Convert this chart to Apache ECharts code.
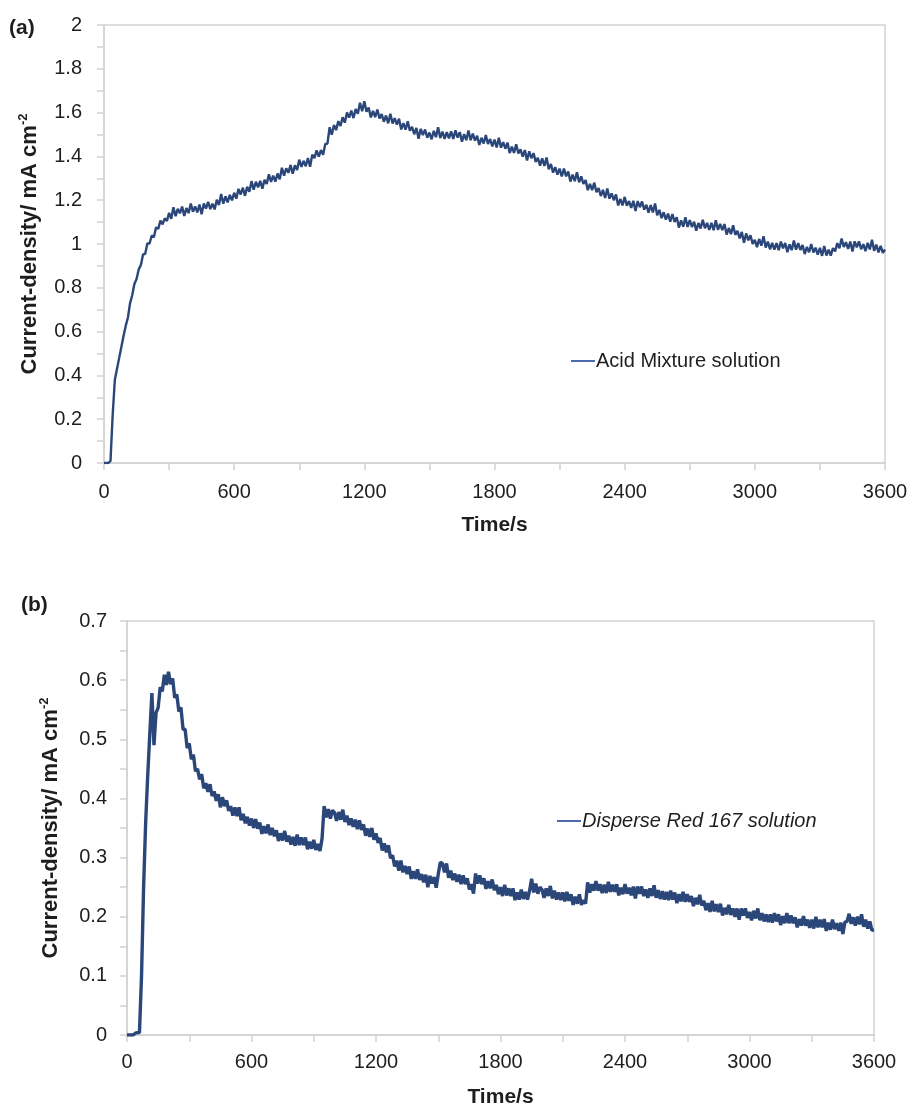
<!DOCTYPE html>
<html>
<head>
<meta charset="utf-8">
<script src="https://cdn.jsdelivr.net/npm/echarts@6/dist/echarts.min.js"></script>
<style>
  html, body { margin: 0; padding: 0; background: #fff; }
  #chart { width: 912px; height: 1109px; }
</style>
</head>
<body>
<div id="chart"></div>
<script>
// Chronoamperometry records, one reading every 10 s from 0 to 3600 s.
const sampleStep = 10;

const seriesNameA = 'Acid Mixture solution';
const seriesNameB = 'Disperse Red 167 solution';

const xTicks = [0, 600, 1200, 1800, 2400, 3000, 3600];
const yTicksA = [0, 0.2, 0.4, 0.6, 0.8, 1, 1.2, 1.4, 1.6, 1.8, 2];
const yTicksB = [0, 0.1, 0.2, 0.3, 0.4, 0.5, 0.6, 0.7];

// (a) current density, mA cm-2 (10 readings per row = 100 s)
const currentA = [
  0, 0, 0, 0.01, 0.22, 0.38, 0.43, 0.48, 0.53, 0.58,
  0.626, 0.663, 0.729, 0.766, 0.817, 0.840, 0.884, 0.904, 0.952, 0.955,
  1.003, 1.002, 1.039, 1.031, 1.076, 1.069, 1.107, 1.090, 1.117, 1.105,
  1.142, 1.115, 1.168, 1.127, 1.161, 1.140, 1.171, 1.128, 1.164, 1.141,
  1.185, 1.147, 1.172, 1.144, 1.180, 1.136, 1.185, 1.162, 1.192, 1.159,
  1.184, 1.158, 1.202, 1.178, 1.228, 1.184, 1.218, 1.190, 1.224, 1.199,
  1.234, 1.207, 1.252, 1.226, 1.257, 1.220, 1.261, 1.238, 1.287, 1.248,
  1.284, 1.259, 1.288, 1.253, 1.293, 1.274, 1.318, 1.284, 1.312, 1.285,
  1.322, 1.295, 1.348, 1.312, 1.346, 1.325, 1.361, 1.321, 1.359, 1.338,
  1.385, 1.352, 1.380, 1.355, 1.393, 1.353, 1.408, 1.392, 1.428, 1.399,
  1.429, 1.408, 1.457, 1.458, 1.533, 1.499, 1.543, 1.520, 1.561, 1.539,
  1.579, 1.554, 1.601, 1.577, 1.609, 1.575, 1.616, 1.595, 1.645, 1.606,
  1.652, 1.604, 1.623, 1.578, 1.608, 1.579, 1.614, 1.573, 1.593, 1.558,
  1.587, 1.551, 1.595, 1.550, 1.575, 1.545, 1.572, 1.523, 1.552, 1.522,
  1.560, 1.517, 1.535, 1.501, 1.530, 1.481, 1.526, 1.497, 1.523, 1.485,
  1.509, 1.478, 1.517, 1.488, 1.533, 1.484, 1.513, 1.480, 1.511, 1.482,
  1.514, 1.480, 1.519, 1.486, 1.511, 1.467, 1.502, 1.474, 1.518, 1.474,
  1.504, 1.472, 1.494, 1.452, 1.485, 1.459, 1.497, 1.457, 1.479, 1.446,
  1.477, 1.441, 1.485, 1.440, 1.465, 1.435, 1.463, 1.415, 1.445, 1.416,
  1.455, 1.413, 1.432, 1.399, 1.429, 1.381, 1.423, 1.392, 1.415, 1.375,
  1.394, 1.358, 1.391, 1.356, 1.395, 1.341, 1.365, 1.326, 1.351, 1.317,
  1.344, 1.308, 1.344, 1.309, 1.331, 1.285, 1.317, 1.287, 1.328, 1.282,
  1.309, 1.274, 1.292, 1.246, 1.275, 1.246, 1.280, 1.236, 1.255, 1.219,
  1.247, 1.210, 1.253, 1.207, 1.231, 1.200, 1.226, 1.176, 1.206, 1.176,
  1.215, 1.175, 1.196, 1.165, 1.197, 1.151, 1.196, 1.168, 1.194, 1.157,
  1.179, 1.143, 1.178, 1.144, 1.185, 1.131, 1.156, 1.118, 1.145, 1.111,
  1.139, 1.102, 1.137, 1.101, 1.122, 1.075, 1.108, 1.079, 1.122, 1.078,
  1.109, 1.078, 1.102, 1.061, 1.096, 1.071, 1.111, 1.072, 1.096, 1.064,
  1.097, 1.063, 1.108, 1.065, 1.092, 1.063, 1.091, 1.043, 1.073, 1.045,
  1.085, 1.042, 1.060, 1.026, 1.055, 1.006, 1.048, 1.017, 1.040, 1.000,
  1.019, 0.986, 1.023, 0.992, 1.035, 0.984, 1.011, 0.976, 1.005, 0.974,
  1.004, 0.972, 1.011, 0.980, 1.005, 0.963, 0.998, 0.972, 1.016, 0.974,
  1.004, 0.973, 0.995, 0.954, 0.987, 0.962, 1.000, 0.961, 0.983, 0.951,
  0.982, 0.946, 0.991, 0.947, 0.974, 0.947, 0.981, 0.966, 1.004, 0.981,
  1.025, 0.986, 1.008, 0.978, 1.011, 0.966, 1.012, 0.985, 1.012, 0.976,
  0.999, 0.967, 1.005, 0.975, 1.019, 0.969, 0.997, 0.962, 0.991, 0.960,
  0.975
];

// (b) current density, mA cm-2 (10 readings per row = 100 s)
const currentB = [
  0, 0, 0, 0, 0.003, 0.004, 0.004, 0.10, 0.25, 0.36,
  0.44, 0.51, 0.578, 0.49, 0.545, 0.553, 0.588, 0.581, 0.609, 0.592,
  0.614, 0.593, 0.603, 0.570, 0.576, 0.547, 0.554, 0.517, 0.517, 0.485,
  0.493, 0.466, 0.474, 0.446, 0.450, 0.432, 0.441, 0.417, 0.426, 0.411,
  0.424, 0.404, 0.412, 0.396, 0.407, 0.385, 0.402, 0.387, 0.397, 0.379,
  0.387, 0.371, 0.385, 0.370, 0.385, 0.363, 0.374, 0.358, 0.369, 0.354,
  0.366, 0.350, 0.365, 0.349, 0.359, 0.340, 0.353, 0.341, 0.356, 0.338,
  0.350, 0.336, 0.346, 0.328, 0.341, 0.329, 0.345, 0.327, 0.337, 0.322,
  0.335, 0.320, 0.339, 0.321, 0.334, 0.321, 0.334, 0.314, 0.327, 0.315,
  0.330, 0.313, 0.323, 0.311, 0.332, 0.387, 0.368, 0.382, 0.366, 0.380,
  0.376, 0.362, 0.377, 0.364, 0.381, 0.360, 0.371, 0.355, 0.366, 0.352,
  0.364, 0.348, 0.363, 0.347, 0.356, 0.337, 0.349, 0.335, 0.350, 0.330,
  0.341, 0.325, 0.333, 0.312, 0.324, 0.309, 0.321, 0.299, 0.304, 0.285,
  0.295, 0.278, 0.295, 0.275, 0.286, 0.272, 0.285, 0.264, 0.277, 0.264,
  0.280, 0.262, 0.272, 0.258, 0.271, 0.250, 0.269, 0.256, 0.267, 0.249,
  0.272, 0.292, 0.290, 0.275, 0.290, 0.266, 0.278, 0.262, 0.273, 0.259,
  0.271, 0.255, 0.270, 0.255, 0.265, 0.246, 0.255, 0.239, 0.273, 0.256,
  0.270, 0.255, 0.265, 0.247, 0.260, 0.248, 0.263, 0.245, 0.254, 0.238,
  0.250, 0.235, 0.254, 0.236, 0.248, 0.235, 0.248, 0.228, 0.241, 0.229,
  0.246, 0.230, 0.242, 0.229, 0.244, 0.264, 0.241, 0.256, 0.239, 0.250,
  0.246, 0.232, 0.248, 0.235, 0.252, 0.231, 0.244, 0.229, 0.241, 0.228,
  0.241, 0.226, 0.242, 0.227, 0.238, 0.220, 0.234, 0.222, 0.238, 0.220,
  0.228, 0.222, 0.258, 0.241, 0.255, 0.244, 0.260, 0.244, 0.255, 0.240,
  0.254, 0.240, 0.259, 0.242, 0.254, 0.242, 0.255, 0.236, 0.249, 0.238,
  0.255, 0.239, 0.249, 0.236, 0.251, 0.231, 0.251, 0.239, 0.251, 0.235,
  0.246, 0.232, 0.248, 0.235, 0.253, 0.232, 0.245, 0.230, 0.243, 0.229,
  0.242, 0.228, 0.244, 0.229, 0.241, 0.223, 0.238, 0.226, 0.242, 0.225,
  0.238, 0.225, 0.235, 0.218, 0.232, 0.221, 0.237, 0.219, 0.227, 0.211,
  0.223, 0.208, 0.227, 0.209, 0.221, 0.208, 0.222, 0.202, 0.215, 0.204,
  0.220, 0.203, 0.214, 0.200, 0.214, 0.195, 0.214, 0.202, 0.214, 0.198,
  0.208, 0.194, 0.210, 0.197, 0.214, 0.194, 0.206, 0.192, 0.204, 0.191,
  0.204, 0.190, 0.206, 0.192, 0.204, 0.186, 0.201, 0.189, 0.206, 0.189,
  0.202, 0.189, 0.199, 0.182, 0.196, 0.185, 0.201, 0.185, 0.195, 0.181,
  0.195, 0.180, 0.200, 0.182, 0.195, 0.182, 0.196, 0.176, 0.190, 0.178,
  0.195, 0.179, 0.189, 0.176, 0.190, 0.171, 0.191, 0.192, 0.205, 0.188,
  0.199, 0.185, 0.200, 0.187, 0.204, 0.183, 0.195, 0.180, 0.192, 0.177,
  0.178
];

const FONT = '"Liberation Sans", Arial, Helvetica, sans-serif';
const TEXT = '#1e1e1e';
const AXIS = '#d2d2d2';
const LINE = '#2b4679';
const LEGEND_LINE = '#4a6cae';

function toPairs(values) {
  return values.map((v, i) => [i * sampleStep, v]);
}

function tickLabel(list) {
  return function (v) {
    const r = Math.round(v * 1000) / 1000;
    return list.some(t => Math.abs(t - r) < 1e-6) ? String(r) : '';
  };
}

function xAxis(gridIndex, labelMargin, nameGap) {
  return {
    type: 'value', gridIndex: gridIndex,
    min: 0, max: 3600, interval: 300,
    name: 'Time/s', nameLocation: 'middle', nameGap: nameGap,
    nameTextStyle: { fontFamily: FONT, fontSize: 21, fontWeight: 'bold', color: TEXT },
    axisLine: { show: true, lineStyle: { color: AXIS, width: 1.5 } },
    axisTick: { show: true, inside: false, length: 7, lineStyle: { color: AXIS, width: 1.5 } },
    axisLabel: { margin: labelMargin, fontFamily: FONT, fontSize: 20, color: TEXT,
                 formatter: tickLabel(xTicks) },
    splitLine: { show: false }
  };
}

function yAxis(gridIndex, max, interval, ticks, labelMargin, nameGap) {
  return {
    type: 'value', gridIndex: gridIndex,
    min: 0, max: max, interval: interval,
    name: '{t|Current-density/ mA cm}{s|-2}', nameLocation: 'middle', nameGap: nameGap,
    nameRotate: 90,
    nameTextStyle: {
      rich: {
        t: { fontFamily: FONT, fontSize: 22, fontWeight: 'bold', color: TEXT },
        s: { fontFamily: FONT, fontSize: 13, fontWeight: 'bold', color: TEXT, verticalAlign: 'top', padding: [0, 0, 12, 0] }
      }
    },
    axisLine: { show: true, lineStyle: { color: AXIS, width: 1.5 } },
    axisTick: { show: true, inside: false, length: 7, lineStyle: { color: AXIS, width: 1.5 } },
    axisLabel: { margin: labelMargin, fontFamily: FONT, fontSize: 20, color: TEXT,
                 formatter: tickLabel(ticks) },
    splitLine: { show: false }
  };
}

const chart = echarts.init(document.getElementById('chart'), null, { renderer: 'canvas' });

chart.setOption({
  animation: false,
  backgroundColor: '#ffffff',
  grid: [
    { left: 104, top: 25, width: 781, height: 438, show: true, borderColor: AXIS, borderWidth: 1.5, backgroundColor: 'transparent' },
    { left: 127, top: 621, width: 747, height: 416, show: true, borderColor: AXIS, borderWidth: 1.5, backgroundColor: 'transparent' }
  ],
  xAxis: [xAxis(0, 19, 52), xAxis(1, 17, 52)],
  yAxis: [
    yAxis(0, 2, 0.1, yTicksA, 22, 62),
    yAxis(1, 0.7, 0.05, yTicksB, 20, 64)
  ],
  legend: [
    {
      data: [seriesNameA], left: 566, top: 346, itemWidth: 24, itemHeight: 2, icon: 'rect', itemGap: 4,
      textStyle: { fontFamily: FONT, fontSize: 20, color: TEXT, padding: [0, 0, 0, -4] },
      itemStyle: { color: LEGEND_LINE }
    },
    {
      data: [seriesNameB], left: 552, top: 806, itemWidth: 24, itemHeight: 2, icon: 'rect', itemGap: 4,
      textStyle: { fontFamily: FONT, fontSize: 20, fontStyle: 'italic', color: TEXT, padding: [0, 0, 0, -4] },
      itemStyle: { color: LEGEND_LINE }
    }
  ],
  graphic: [
    { type: 'text', left: 9, top: 18, style: { text: '(a)', font: 'bold 21px ' + FONT, fill: TEXT } },
    { type: 'text', left: 21, top: 595, style: { text: '(b)', font: 'bold 21px ' + FONT, fill: TEXT } }
  ],
  series: [
    {
      name: seriesNameA, type: 'line', xAxisIndex: 0, yAxisIndex: 0,
      data: toPairs(currentA), showSymbol: false, symbol: 'none',
      lineStyle: { color: LINE, width: 2.4 }, itemStyle: { color: LINE }
    },
    {
      name: seriesNameB, type: 'line', xAxisIndex: 1, yAxisIndex: 1,
      data: toPairs(currentB), showSymbol: false, symbol: 'none',
      lineStyle: { color: LINE, width: 3.4 }, itemStyle: { color: LINE }
    }
  ]
});
</script>
</body>
</html>
